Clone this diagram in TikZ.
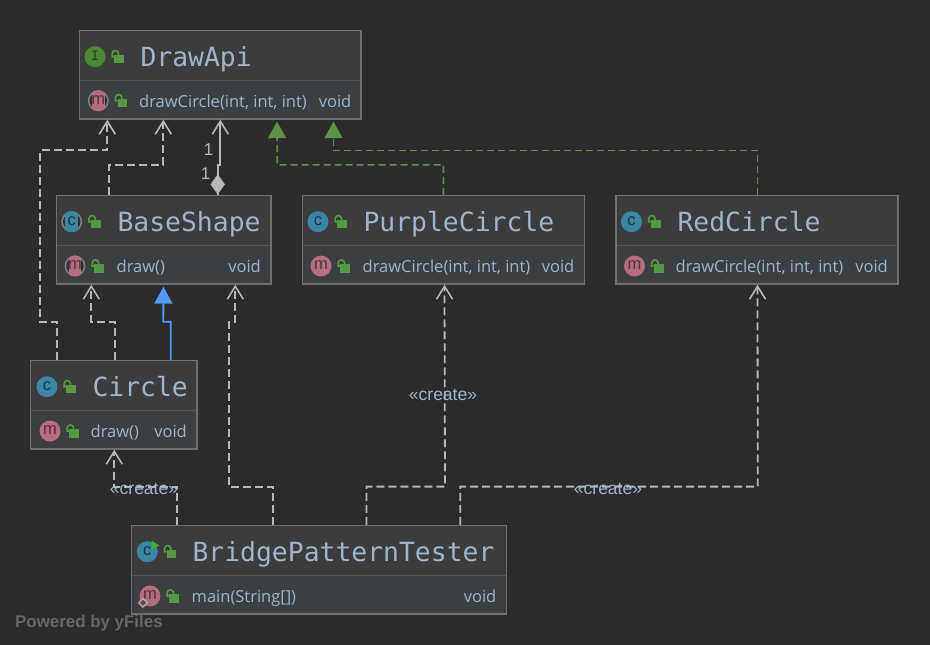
\documentclass[tikz,border=0pt]{standalone}
\usepackage{fontspec}
\setmainfont{Open Sans}
\newfontfamily\titlefont{DejaVu Sans Mono}
\newfontfamily\labelfont{Liberation Sans}
\usetikzlibrary{arrows.meta}
\definecolor{bgc}{HTML}{2B2B2B}
\definecolor{headc}{HTML}{3C3C3C}
\definecolor{rowc}{HTML}{3B3F42}
\definecolor{edgec}{HTML}{707070}
\definecolor{divc}{HTML}{555555}
\definecolor{txtc}{HTML}{A0B4CC}
\definecolor{linec}{HTML}{B8B8B8}
\definecolor{implc}{HTML}{5B9145}
\definecolor{inhc}{HTML}{4F9BF5}
\definecolor{iconi}{HTML}{4A8A35}
\definecolor{iconc}{HTML}{3A87A3}
\definecolor{iconm}{HTML}{B56D7F}
\definecolor{lockc}{HTML}{559A3E}
\tikzset{
 umlbox/.style={draw=edgec,line width=1.4pt,inner sep=0pt,anchor=north west},
 titletext/.style={font=\titlefont\fontsize{26.4}{26}\selectfont,text=txtc,anchor=base west,inner sep=0pt},
 rowtext/.style={font=\fontsize{16.5}{18}\selectfont,text=txtc,anchor=base west,inner sep=0pt},
 rowtype/.style={rowtext,anchor=base east},
 dep/.style={draw=linec,line width=1.8pt,dash pattern=on 8pt off 4pt,-{Straight Barb[length=13pt,width=16pt,line width=1.6pt]}},
 assoc/.style={draw=linec,line width=1.8pt,-{Straight Barb[length=13pt,width=16pt,line width=1.6pt]}},
 impl/.style={draw=implc,line width=1.6pt,dash pattern=on 7pt off 4pt,-{Triangle[length=16.5pt,width=18pt]}},
 inh/.style={draw=inhc,line width=1.8pt,-{Triangle[length=17pt,width=18pt]}},
 edgelabel/.style={font=\labelfont\fontsize{17.5}{18}\selectfont,text=txtc,inner sep=0pt},
 onelabel/.style={font=\labelfont\fontsize{17}{18}\selectfont,text=linec,inner sep=0pt},
 iconletter/.style={font=\labelfont\fontsize{#1}{#1}\selectfont,inner sep=0pt},
}
% name, x0, y0, x1, y1, divider
\newcommand{\umlnode}[6]{%
 \fill[headc] (#2,#3) rectangle (#4,#6);
 \fill[rowc] (#2,#6) rectangle (#4,#5);
 \draw[divc,line width=1.2pt] (#2,#6) -- (#4,#6);
 \node[umlbox,minimum width={(#4-#2)*1pt},minimum height={(#5-#3)*1pt}] (#1) at (#2,#3) {};
}
% padlock relative to icon centre
\newcommand{\lockicon}[2]{%
 \begin{scope}[shift={(#1,#2)}]
 \fill[lockc] (19.2,-2) rectangle (29,6.5);
 \draw[lockc,line width=1.6pt] (19.2,0) -- (17.2,0) -- (17.2,-3) arc[start angle=180,end angle=0,x radius=3.2,y radius=-3.2] -- (23.6,-1.5);
 \end{scope}
}
% name, x, y, colour, letter, letter colour
\newcommand{\iconplain}[6]{%
 \fill[#4] (#2,#3) circle[radius=10.5];
 \node[iconletter=16.5,text=#6] (#1) at (#2,#3-0.5) {#5};
 \lockicon{#2}{#3}
}
\newcommand{\iconabs}[6]{%
 \fill[edgec!90!white] (#2,#3) circle[radius=10.5];
 \fill[bgc!70!headc] (#2,#3) circle[radius=8.7];
 \begin{scope}
 \clip (#2,#3) circle[radius=10.5];
 \fill[#4] (#2-6.3,#3-11) rectangle (#2+6.3,#3+11);
 \end{scope}
 \node[iconletter=16.5,text=#6] (#1) at (#2,#3-0.5) {#5};
 \lockicon{#2}{#3}
}
\begin{document}
\begin{tikzpicture}[x=1pt,y=-1pt]
\fill[bgc] (0,0) rectangle (930,645);
\useasboundingbox (0,0) rectangle (930,645);

\begin{scope}[shift={(-0.7,-0.7)}]
\umlnode{drawapi}{79.5}{30.5}{361}{119}{81.5}
\umlnode{base}{56.5}{195.5}{271}{284}{246.5}
\umlnode{purple}{302.5}{195.5}{584.5}{284}{246.5}
\umlnode{red}{616}{195.5}{898}{284}{246.5}
\umlnode{circ}{30.5}{360.5}{197}{449}{411.5}
\umlnode{tester}{131.5}{525.5}{506.5}{614}{576.5}

% connectors
\draw[dep] ([xshift=27.5pt]circ.north west) -- ++(0,-38) -- ++(-17,0) -- ++(0,-171.5) -- ++(67,0) -- ([xshift=28.5pt]drawapi.south west);
\draw[dep] ([xshift=53.5pt]base.north west) -- ++(0,-30) -- ++(54,0) -- ([xshift=84.5pt]drawapi.south west);
\draw[assoc] ([xshift=161.9pt]base.north west) -- ++(0,-30) -- ++(2.6,0) -- ([xshift=141.5pt]drawapi.south west);
\fill[linec] ([xshift=161.9pt,yshift=0.5pt]base.north west) -- ++(7.2,-10) -- ++(-7.2,-10) -- ++(-7.2,10) -- cycle;
\draw[impl] ([xshift=141.7pt]purple.north west) -- ++(0,-30) -- ++(-166.2,0) -- ([xshift=198.2pt,yshift=-2pt]drawapi.south west);
\draw[impl] ([xshift=142.2pt]red.north west) -- ++(0,-44.5) -- ++(-424,0) -- ([xshift=254.7pt,yshift=-2pt]drawapi.south west);
\draw[inh] ([xshift=140.9pt]circ.north west) -- ++(0,-38) -- ++(-7.4,0) -- ([xshift=107.7pt,yshift=-2pt]base.south west);
\draw[dep] ([xshift=84.9pt]circ.north west) -- ++(0,-38) -- ++(-23.4,0) -- ([xshift=35.5pt]base.south west);
\draw[dep] ([xshift=141.9pt]tester.north west) -- ++(0,-38.2) -- ++(-44,0) -- ++(0,-165) -- ++(6.6,0) -- ([xshift=179.5pt]base.south west);
\draw[dep] ([xshift=46.5pt]tester.north west) -- ++(0,-38.2) -- ++(-63,0) -- ([xshift=84.5pt]circ.south west);
\draw[dep] ([xshift=235.7pt]tester.north west) -- ++(0,-38.2) -- ++(78.5,0) -- ([xshift=142.7pt]purple.south west);
\draw[dep] ([xshift=329.5pt]tester.north west) -- ++(0,-38.2) -- ++(297.5,0) -- ([xshift=142.2pt]red.south west);
\end{scope}

% edge labels
\node[onelabel] (one1) at (208.5,150) {1};
\node[onelabel] (one2) at (205.5,174) {1};
\node[edgelabel] (cr1) at (144,489) {«create»};
\node[edgelabel] (cr2) at (443,395) {«create»};
\node[edgelabel] (cr3) at (608,489) {«create»};

% DrawApi
\iconplain{ia}{95}{56.7}{iconi}{{\titlefont\fontsize{13}{13}\selectfont I}}{iconi!45!black}
\node[titletext] (ta) at (140.3,66) {DrawApi};
\iconabs{ma}{98.3}{100.7}{iconm}{m}{iconm!45!black}
\node[rowtext] (ra) at (139,107.5) {drawCircle(int, int, int)};
\node[rowtype] (va) at (351.5,107.5) {void};
% BaseShape
\iconabs{ib}{71.7}{221.7}{iconc}{c}{iconc!40!black}
\node[titletext] (tb) at (117.3,231) {BaseShape};
\iconabs{mb}{75}{266}{iconm}{m}{iconm!45!black}
\node[rowtext] (rb) at (116.5,272.5) {draw()};
\node[rowtype] (vb) at (261,272.5) {void};
% PurpleCircle
\iconplain{ip}{318}{221.7}{iconc}{c}{iconc!40!black}
\node[titletext] (tp) at (363.3,231) {PurpleCircle};
\iconplain{mp}{321}{266}{iconm}{m}{iconm!45!black}
\node[rowtext] (rp) at (362.5,272.5) {drawCircle(int, int, int)};
\node[rowtype] (vp) at (574.5,272.5) {void};
% RedCircle
\iconplain{ir}{631.5}{221.7}{iconc}{c}{iconc!40!black}
\node[titletext] (tr) at (677.3,231) {RedCircle};
\iconplain{mr}{634.5}{266}{iconm}{m}{iconm!45!black}
\node[rowtext] (rr) at (675.5,272.5) {drawCircle(int, int, int)};
\node[rowtype] (vr) at (888,272.5) {void};
% Circle
\iconplain{ic}{47}{386.7}{iconc}{c}{iconc!40!black}
\node[titletext] (tc) at (92.3,396) {Circle};
\iconplain{mc}{50}{431}{iconm}{m}{iconm!45!black}
\node[rowtext] (rc) at (90.5,437.5) {draw()};
\node[rowtype] (vc) at (187,437.5) {void};
% Tester
\iconplain{it}{147.3}{551.7}{iconc}{c}{iconc!40!black}
\fill[lockc!80!green] (151.7,540.7) -- (159.3,545.5) -- (151.7,550) -- cycle;
\node[titletext] (tt) at (192.3,561.5) {BridgePatternTester};
\iconplain{mt}{150}{596}{iconm}{m}{iconm!45!black}
\node[rowtext] (rt) at (191.5,602.5) {main(String[])};
\node[rowtype] (vt) at (496.5,602.5) {void};
\draw[gray!70!white,line width=1.6pt,fill=iconm!60!black] (143,598.5) -- (147.2,602.7) -- (143,606.9) -- (138.8,602.7) -- cycle;

\node[font=\labelfont\bfseries\fontsize{16.9}{18}\selectfont,text=white!40!black,anchor=base west,inner sep=0pt] (powered) at (15,627) {Powered by yFiles};
\end{tikzpicture}
\end{document}
